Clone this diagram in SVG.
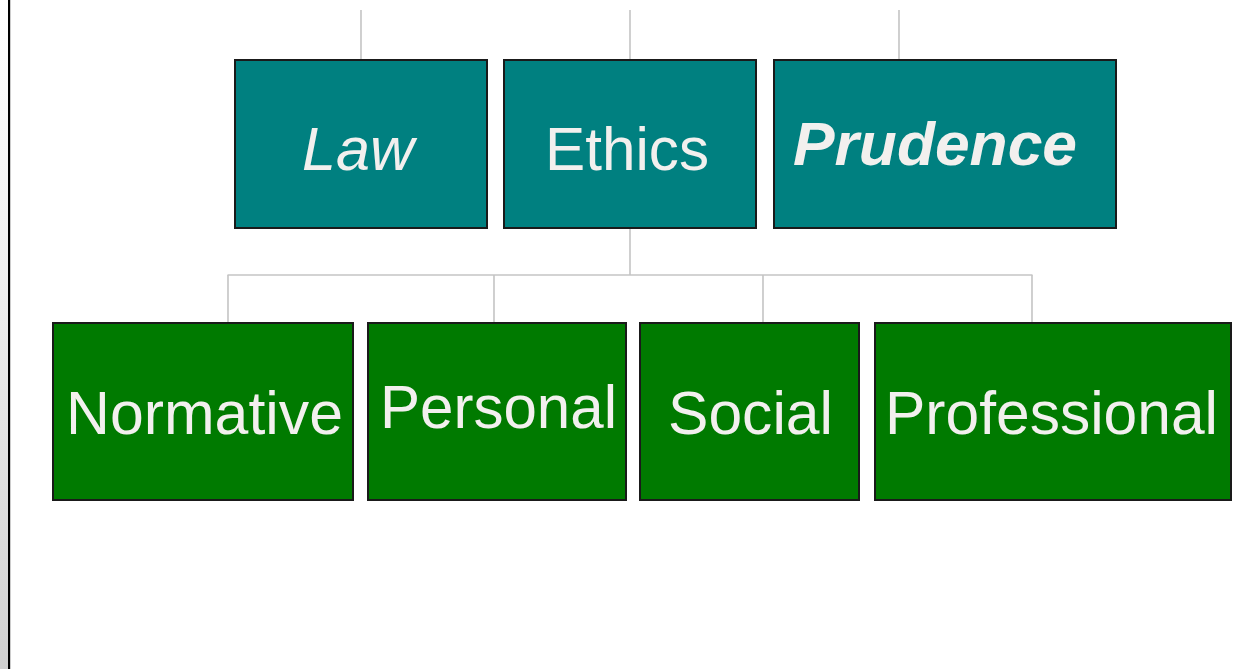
<svg xmlns="http://www.w3.org/2000/svg" width="1244" height="669" viewBox="0 0 1244 669">
<defs>
<linearGradient id="edge" x1="0" y1="0" x2="0" y2="1">
<stop offset="0" stop-color="#ffffff"/>
<stop offset="0.4" stop-color="#f0f0f0"/>
<stop offset="1" stop-color="#d0d0d0"/>
</linearGradient>
</defs>
<style>
.top{fill:#008080;stroke:#1a1a1a;stroke-width:2}
.bot{fill:#007A00;stroke:#1a1a1a;stroke-width:2}
.lbl{fill:#F2F0EE;font-family:"Liberation Sans",Arial,sans-serif;font-size:61px}
.conn{stroke:#C4C4C4;stroke-width:1.6;fill:none}
</style>
<rect x="0" y="0" width="1244" height="669" fill="#ffffff"/>
<rect x="0" y="0" width="8" height="669" fill="url(#edge)"/>
<rect x="8" y="0" width="2.2" height="669" fill="#000000"/>
<g id="connectors">
<line class="conn" x1="361" y1="10" x2="361" y2="59"/>
<line class="conn" x1="630" y1="10" x2="630" y2="59"/>
<line class="conn" x1="899" y1="10" x2="899" y2="59"/>
<line class="conn" x1="630" y1="228" x2="630" y2="275"/>
<line class="conn" x1="227.5" y1="275" x2="1032.5" y2="275"/>
<line class="conn" x1="228" y1="275" x2="228" y2="323"/>
<line class="conn" x1="494" y1="275" x2="494" y2="323"/>
<line class="conn" x1="763" y1="275" x2="763" y2="323"/>
<line class="conn" x1="1032" y1="275" x2="1032" y2="323"/>
</g>
<g id="law">
<rect class="top" x="235" y="60" width="252" height="168"/>
<text class="lbl" x="302" y="170" font-style="italic" textLength="112" lengthAdjust="spacingAndGlyphs">Law</text>
</g>
<g id="ethics">
<rect class="top" x="504" y="60" width="252" height="168"/>
<text class="lbl" x="545" y="170" textLength="164" lengthAdjust="spacingAndGlyphs">Ethics</text>
</g>
<g id="prudence">
<rect class="top" x="774" y="60" width="342" height="168"/>
<text class="lbl" x="793" y="165" font-style="italic" font-weight="bold" textLength="284" lengthAdjust="spacingAndGlyphs">Prudence</text>
</g>
<g id="normative">
<rect class="bot" x="53" y="323" width="300" height="177"/>
<text class="lbl" x="66" y="434" textLength="277" lengthAdjust="spacingAndGlyphs">Normative</text>
</g>
<g id="personal">
<rect class="bot" x="368" y="323" width="258" height="177"/>
<text class="lbl" x="380" y="428" textLength="237" lengthAdjust="spacingAndGlyphs">Personal</text>
</g>
<g id="social">
<rect class="bot" x="640" y="323" width="219" height="177"/>
<text class="lbl" x="668" y="434" textLength="165" lengthAdjust="spacingAndGlyphs">Social</text>
</g>
<g id="professional">
<rect class="bot" x="875" y="323" width="356" height="177"/>
<text class="lbl" x="885" y="434" textLength="333" lengthAdjust="spacingAndGlyphs">Professional</text>
</g>
</svg>
